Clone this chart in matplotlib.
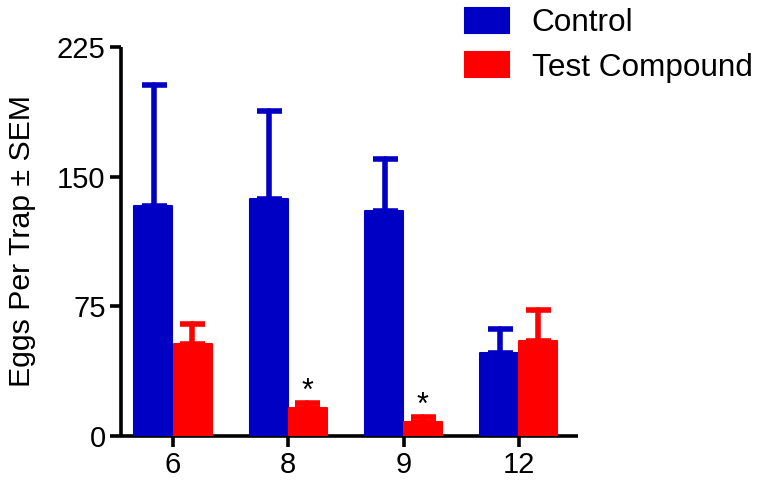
import matplotlib
matplotlib.use("Agg")
import matplotlib.pyplot as plt
import numpy as np

plt.rcParams['font.family'] = ['Liberation Sans', 'DejaVu Sans']

# data
weeks = ['6', '8', '9', '12']
control = [133, 137, 130, 48]
control_sem = [70, 51, 30, 14]
test = [53, 16, 8, 55]
test_sem = [12, 3, 3, 18]
signif = [False, True, True, False]

blue = '#0000C4'
red = '#FF0000'

fig = plt.figure(figsize=(7.63, 4.88), dpi=100)
ax = fig.add_axes([0.1586, 0.1066, 0.7575 - 0.1586, 0.9037 - 0.1066])

x = np.arange(len(weeks))
w = 0.33

b1 = ax.bar(x - w / 2 - 0.005, control, w, color=blue, edgecolor=blue, linewidth=1.5,
            joinstyle='round', label='Control', zorder=3)
b2 = ax.bar(x + w / 2 + 0.005, test, w, color=red, edgecolor=red, linewidth=1.5,
            joinstyle='round', label='Test Compound', zorder=3)

# upper-only error bars
ax.errorbar(x - w / 2, control, yerr=[np.zeros(len(x)), control_sem], fmt='none',
            ecolor=blue, elinewidth=4, capsize=9, capthick=4, zorder=2)
ax.errorbar(x + w / 2, test, yerr=[np.zeros(len(x)), test_sem], fmt='none',
            ecolor=red, elinewidth=4, capsize=9, capthick=4, zorder=2)
for lc in ax.collections:
    lc.set_capstyle('round')

for i in range(len(x)):
    if signif[i]:
        ax.annotate('*', (x[i] + w / 2, test[i] + test_sem[i]), xytext=(0, -3),
                    textcoords='offset points', ha='center', va='bottom', fontsize=22)

ax.set_xlim(-0.451, 3.513)
ax.set_ylim(0, 225)
ax.set_yticks([0, 75, 150, 225])
ax.set_xticks(x)
ax.set_xticklabels(weeks)
ax.set_ylabel('Eggs Per Trap \u00b1 SEM', fontsize=21.8, labelpad=15)

for s in ['top', 'right']:
    ax.spines[s].set_visible(False)
for s in ['left', 'bottom']:
    ax.spines[s].set_linewidth(2.6)
    ax.spines[s].set_capstyle('butt')
ax.tick_params(axis='both', width=2.6, length=8, labelsize=21, pad=3)

ax.legend(loc='upper left', bbox_to_anchor=(465 / 763, 1 - 8 / 488),
          bbox_transform=fig.transFigure, frameon=False, fontsize=22.7,
          handlelength=1.4, handleheight=0.82, handletextpad=0.72,
          labelspacing=0.45, borderpad=0, borderaxespad=0)

fig.savefig('out.png', dpi=100)
